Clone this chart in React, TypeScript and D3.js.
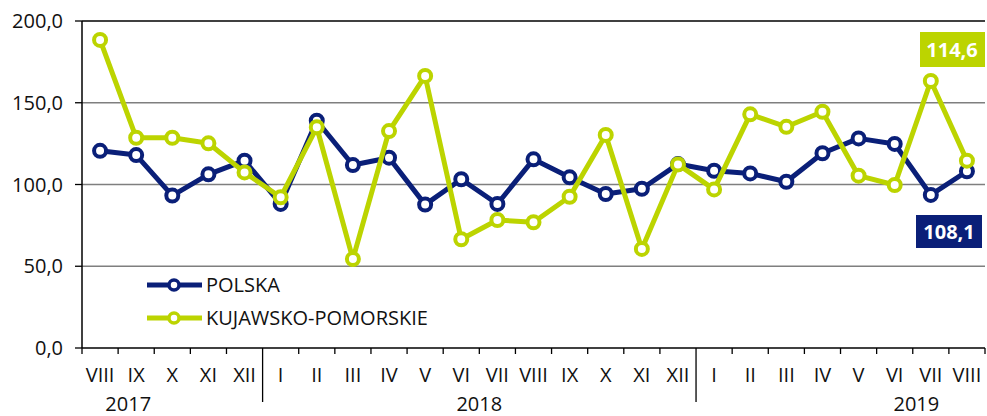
import React from "react";
import * as d3 from "d3";

const months = ["VIII","IX","X","XI","XII","I","II","III","IV","V","VI","VII","VIII","IX","X","XI","XII","I","II","III","IV","V","VI","VII","VIII"];
const years = [
  { label: "2017", start: 0, end: 5, at: 0.78 },
  { label: "2018", start: 5, end: 17, at: 10.5 },
  { label: "2019", start: 17, end: 25, at: 22.6 },
];
const polska = [120.6,118.0,93.2,106.2,114.6,88.1,139.0,111.9,116.4,87.7,103.2,88.1,115.4,104.4,94.2,97.4,112.5,108.4,106.8,101.7,119.1,128.2,124.8,93.6,108.1];
const kujawsko = [188.4,128.6,128.6,125.2,107.4,92.2,135.0,54.4,132.7,166.4,66.5,78.3,76.9,92.5,130.3,60.6,112.3,97.0,142.9,135.3,144.5,105.4,99.7,163.3,114.6];
const yTicks = [0, 50, 100, 150, 200];
const seriesNames = ["POLSKA", "KUJAWSKO-POMORSKIE"];
const lastLabels = ["108,1", "114,6"];

const NAVY = "#0a1f78";
const LIME = "#bcd400";
const FONT = "'Open Sans', sans-serif";
const TXT = "#111";

export default function App() {
  const W = 987, H = 416;
  const x0 = 82, x1 = 985, yTop = 21, yBot = 348;
  const x = d3.scaleBand<number>().domain(d3.range(months.length)).range([x0, x1]);
  const y = d3.scaleLinear().domain([0, 200]).range([yBot, yTop]);
  const cx = (i: number) => x0 + x.bandwidth() * (i + 0.5);
  const line = d3.line<number>().x((_, i) => cx(i)).y((d) => y(d));
  const fmt = (v: number) => v.toFixed(1).replace(".", ",");

  const series = [
    { name: seriesNames[0], data: polska, color: NAVY },
    { name: seriesNames[1], data: kujawsko, color: LIME },
  ];

  return (
    <svg width={W} height={H} style={{ position: "absolute", left: 0, top: 0, fontFamily: FONT }}>
      {yTicks.map((t) => (
        <g key={t}>
          {t > 0 && (
            <line x1={x0} x2={x1} y1={y(t)} y2={y(t)} stroke={t === 200 ? "#000" : "#7f7f7f"} strokeWidth={t === 200 ? 1.3 : 1.5} />
          )}
          <line x1={x0 - 7} x2={x0} y1={y(t)} y2={y(t)} stroke="#000" strokeWidth={1.3} />
          <text x={63} y={y(t)} dy="0.36em" textAnchor="end" fontSize={20} fill={TXT}>{fmt(t)}</text>
        </g>
      ))}
      <line x1={x0} x2={x0} y1={yTop} y2={yBot} stroke="#000" strokeWidth={1.5} />
      <line x1={x0} x2={x1} y1={yBot} y2={yBot} stroke="#000" strokeWidth={1.5} />
      {d3.range(months.length + 1).map((i) => {
        const xx = i < months.length ? (x(i) as number) : x1;
        const isSep = years.some((yr) => yr.start === i && i > 0);
        return <line key={i} x1={xx} x2={xx} y1={yBot} y2={isSep ? 402 : 354} stroke="#000" strokeWidth={1.3} />;
      })}
      {months.map((m, i) => (
        <text key={i} x={cx(i)} y={375} dy="0.36em" textAnchor="middle" fontSize={20} fill={TXT}>{m}</text>
      ))}
      {years.map((yr) => (
        <text key={yr.label} x={cx(yr.at)} y={404} dy="0.36em" textAnchor="middle" fontSize={20} fill={TXT}>{yr.label}</text>
      ))}
      {series.map((s) => (
        <g key={s.name}>
          <path d={line(s.data) || ""} fill="none" stroke={s.color} strokeWidth={5} strokeLinejoin="round" />
          {s.data.map((v, i) => (
            <circle key={i} cx={cx(i)} cy={y(v)} r={6} fill="#fff" stroke={s.color} strokeWidth={4} />
          ))}
        </g>
      ))}
      {series.map((s, k) => {
        const ly = 285 + k * 33;
        return (
          <g key={"leg" + k}>
            <line x1={147} x2={202} y1={ly} y2={ly} stroke={s.color} strokeWidth={5} />
            <circle cx={174} cy={ly} r={5} fill="#fff" stroke={s.color} strokeWidth={3.5} />
            <text x={206} y={ly} dy="0.36em" fontSize={20} fill={TXT}>{s.name}</text>
          </g>
        );
      })}
      <rect x={916} y={215} width={66} height={33} fill={NAVY} />
      <text x={949} y={232} dy="0.36em" textAnchor="middle" fontSize={20} fontWeight="bold" fill="#fff">{lastLabels[0]}</text>
      <rect x={920} y={32} width={65} height={35} fill={LIME} />
      <text x={952} y={50} dy="0.36em" textAnchor="middle" fontSize={20} fontWeight="bold" fill="#fff">{lastLabels[1]}</text>
    </svg>
  );
}
